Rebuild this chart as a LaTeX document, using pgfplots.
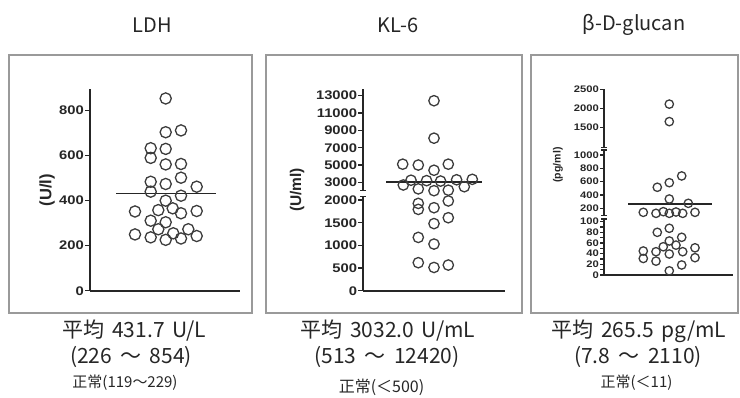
\documentclass[border=0pt]{standalone}
\usepackage{pgfplots}
\usepackage{pgfplotstable}
\pgfplotsset{compat=1.18}
\usepackage{fontspec}
\setmainfont{Liberation Sans}
\newfontfamily\jp{Noto Sans CJK JP}
\newfontfamily\tk[FakeStretch=1.18]{Liberation Sans}

\definecolor{ink}{HTML}{262626}
\definecolor{boxc}{HTML}{9A9A9A}

% ---------- data (x position inside the column, value) ----------
\pgfplotstableread{
x v
75.7 854
75.7 704
91 712
60.7 633
75.7 630
60.7 590
75.7 561
91 563
91 502
60.7 484
75.7 474
106.7 462
60.7 440
91 422
75.7 400
45 352
68.3 358
82.7 366
91 344
106.7 354
60.7 311
75.7 304
68.3 273
98.3 273
45 250
60.7 237
75.7 226
83.3 255
91 232
106.7 243
}\ldhdata
\pgfplotstableread{
x v
26 431.7
126 431.7
}\ldhmean

\pgfplotstableread{
x v
70.7 12420
70.7 8100
39.4 5100
55 5000
85 5100
70.7 4400
47.7 3250
63.3 3200
77.3 3150
93.3 3300
109 3350
40 2700
101 2500
55 2250
70.7 2040
85 2100
55 1926
55 1794
70.7 1831
85 1980
85 1610
70.7 1480
55 1176
70.7 1029
55 618
70.7 513
85 566
}\kldata
\pgfplotstableread{
x v
22.7 3032
118.3 3032
}\klmean

\pgfplotstableread{
x v
65.3 2110
65.3 1650
77.7 686
65.3 585
53.3 516
65.3 340
84.3 275
39.3 140
52 125
59.3 150
65.3 125
72 145
78.7 125
91 140
53.3 80
65.3 87.6
65.3 63.8
77.7 70.7
59.3 53
72 56
39.3 45
52 43.7
65.3 39.4
78.7 43.7
91 51
39.3 31
52 26
91 32.5
65.3 7.8
77.7 18.8
}\bgdata
\pgfplotstableread{
x v
24.3 265.5
107.7 265.5
}\bgmean

\pgfplotsset{
  panel/.style={
    anchor=south west, scale only axis, clip=false,
    xmin=0, ymin=0,
    axis x line=bottom, axis y line=left,
    axis line style={-, line width=2pt, ink},
    xtick=\empty,
    tick align=outside, major tick length=5pt,
    tick style={line width=1.3pt, ink},
    yticklabel style={font=\tk\bfseries\fontsize{12.5}{13}\selectfont, text=ink, inner xsep=1pt},
  },
  dots/.style={only marks, mark=o, mark size=#1, mark options={line width=1.3pt, draw=ink!90}},
  meanl/.style={no marks, line width=1.4pt, ink},
}

\begin{document}
\begin{tikzpicture}
\useasboundingbox (0pt,0pt) rectangle (740pt,-397pt);

% frames
\draw[boxc, line width=1.3pt] (9pt,-55pt) rectangle (252pt,-313pt);
\draw[boxc, line width=1.3pt] (266pt,-55pt) rectangle (522pt,-313pt);
\draw[boxc, line width=1.3pt] (531pt,-55pt) rectangle (738pt,-313pt);

% titles
\node[font=\jp\fontsize{20}{20}\selectfont, text=ink] at (152pt,-25pt) {LDH};
\node[font=\jp\fontsize{20}{20}\selectfont, text=ink] at (398pt,-25pt) {KL-6};
\node[font=\jp\fontsize{20}{20}\selectfont, text=ink] at (634pt,-25pt) {β-D-glucan};

% ---------------- LDH ----------------
\begin{axis}[panel, at={(90pt,-290.7pt)},
  width=150pt, height=201.7pt, xmax=150, ymax=896,
  ytick={0,200,400,600,800}, yticklabels={0,200,400,600,800}]
\addplot[dots=5.6pt] table[x=x, y=v] {\ldhdata};
\addplot[meanl] table[x=x, y=v] {\ldhmean};
\end{axis}

% ---------------- KL-6 (broken axis) ----------------
\begin{axis}[panel, at={(363.3pt,-290.7pt)},
  width=141.7pt, height=201.3pt, xmax=141.7, ymax=201.3,
  y axis line style={draw=none},
  ytick={0,22.67,45.33,68,90.67,108.33,125.67,143,160.33,177.67,195},
  yticklabels={0,500,1000,1500,2000,3000,5000,7000,9000,11000,13000}]
\draw[line width=2pt, ink] (axis cs:0,0) -- (axis cs:0,94.5);
\draw[line width=2pt, ink] (axis cs:0,100.5) -- (axis cs:0,201.3);
\draw[line width=1.3pt, ink] (axis cs:-3,94.5) -- (axis cs:3,94.5);
\draw[line width=1.3pt, ink] (axis cs:-3,100.5) -- (axis cs:3,100.5);
\addplot[dots=5.2pt] table[x=x, y expr={\thisrow{v}<=2000 ? \thisrow{v}*0.04533 : 108.33+(\thisrow{v}-3000)*0.008667}] {\kldata};
\addplot[meanl] table[x=x, y expr={108.33+(\thisrow{v}-3000)*0.008667}] {\klmean};
\end{axis}

% ---------------- beta-D-glucan (two breaks) ----------------
\begin{axis}[panel, at={(604pt,-275pt)},
  width=129pt, height=187pt, xmax=129, ymax=187,
  y axis line style={draw=none},
  major tick length=4pt,
  yticklabel style={font=\tk\bfseries\fontsize{9.5}{10}\selectfont, inner xsep=1pt},
  ytick={0,5.333,10.667,16,21.333,26.667,32,37.333,42.667,48,53.333,66.667,80,93.333,106.667,120,147.7,166.7,185.7},
  yticklabels={0,,20,,40,,60,,80,,100,200,400,600,800,1000,1500,2000,2500}]
\draw[line width=1.8pt, ink] (axis cs:0,0) -- (axis cs:0,56);
\draw[line width=1.8pt, ink] (axis cs:0,59.3) -- (axis cs:0,125);
\draw[line width=1.8pt, ink] (axis cs:0,127.5) -- (axis cs:0,186.5);
\draw[line width=1.2pt, ink] (axis cs:-3,56) -- (axis cs:3,56);
\draw[line width=1.2pt, ink] (axis cs:-3,59.3) -- (axis cs:3,59.3);
\draw[line width=1.2pt, ink] (axis cs:-3,125) -- (axis cs:3,125);
\draw[line width=1.2pt, ink] (axis cs:-3,127.5) -- (axis cs:3,127.5);
\addplot[dots=4.2pt] table[x=x, y expr={\thisrow{v}<=100 ? \thisrow{v}*0.5333 : (\thisrow{v}<=1000 ? 53.33+\thisrow{v}*0.06667 : 128.7+(\thisrow{v}-1000)*0.038)}] {\bgdata};
\addplot[meanl] table[x=x, y expr={53.33+\thisrow{v}*0.06667}] {\bgmean};
\end{axis}

% axis titles
\node[rotate=90, font=\bfseries\fontsize{16.5}{16.5}\selectfont, text=ink] at (47pt,-190pt) {(U/l)};
\node[rotate=90, font=\bfseries\fontsize{15.5}{15.5}\selectfont, text=ink] at (297pt,-190pt) {(U/ml)};
\node[rotate=90, font=\bfseries\fontsize{10.5}{10.5}\selectfont, text=ink] at (558pt,-165pt) {(pg/ml)};

% captions
\begin{scope}[every node/.style={inner sep=0pt, text=ink}]
\node[font=\jp\fontsize{21}{21}\selectfont] at (134.5pt,-331pt) {平均\hspace{0.35em}431.7\hspace{0.35em}U/L};
\node[font=\jp\fontsize{21}{21}\selectfont] at (131pt,-356.5pt) {(226\hspace{0.4em}〜\hspace{0.4em}854)};
\node[font=\jp\fontsize{15}{15}\selectfont] at (125pt,-382.5pt) {正常(119〜229)};

\node[font=\jp\fontsize{21}{21}\selectfont] at (388pt,-331pt) {平均\hspace{0.35em}3032.0\hspace{0.35em}U/mL};
\node[font=\jp\fontsize{21}{21}\selectfont] at (387pt,-356.5pt) {(513\hspace{0.4em}〜\hspace{0.4em}12420)};
\node[font=\jp\fontsize{16}{16}\selectfont] at (381.5pt,-387.5pt) {正常(＜500)};

\node[font=\jp\fontsize{21}{21}\selectfont] at (639pt,-331pt) {平均\hspace{0.35em}265.5\hspace{0.35em}pg/mL};
\node[font=\jp\fontsize{21}{21}\selectfont] at (638pt,-356.5pt) {(7.8\hspace{0.4em}〜\hspace{0.4em}2110)};
\node[font=\jp\fontsize{15}{15}\selectfont] at (636.5pt,-382.5pt) {正常(＜11)};
\end{scope}
\end{tikzpicture}
\end{document}
